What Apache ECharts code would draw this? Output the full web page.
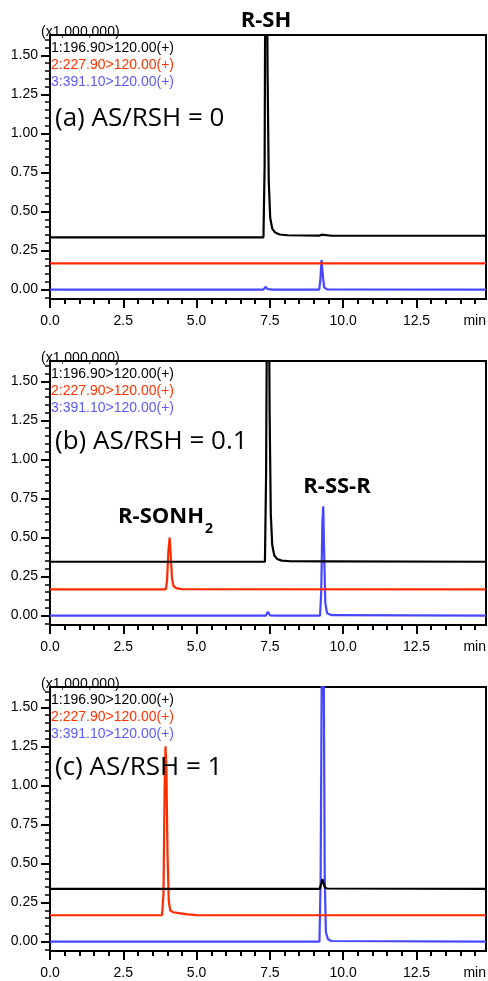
<!DOCTYPE html>
<html><head><meta charset="utf-8">
<script src="https://cdn.jsdelivr.net/npm/echarts@6/dist/echarts.min.js"></script>
<style>html,body{margin:0;padding:0;background:#fff}#c{width:488px;height:981px}</style>
</head><body><div id="c"></div><script>
// ---- data ----
const timeMajorTicks = [0, 2.5, 5, 7.5, 10, 12.5];
const timeMinorTicks = [0.5, 1, 1.5, 2, 3, 3.5, 4, 4.5, 5.5, 6, 6.5, 7, 8, 8.5, 9, 9.5, 10.5, 11, 11.5, 12, 13, 13.5, 14, 14.5];
const intensityMajorTicks = [0, 0.25, 0.5, 0.75, 1, 1.25, 1.5];
const intensityMinorTicks = [-0.05, 0.05, 0.1, 0.15, 0.2, 0.3, 0.35, 0.4, 0.45, 0.55, 0.6, 0.65, 0.7, 0.8, 0.85, 0.9, 0.95, 1.05, 1.1, 1.15, 1.2, 1.3, 1.35, 1.4, 1.45, 1.55, 1.6];
const channelNames = ['1:196.90>120.00(+)', '2:227.90>120.00(+)', '3:391.10>120.00(+)'];
const panelLabels = ['(a) AS/RSH = 0', '(b) AS/RSH = 0.1', '(c) AS/RSH = 1'];
const scaleNote = '(x1,000,000)';
const timeUnit = 'min';

// panel (a)
const a_ch1 = [[0,0.335],[6.9,0.335],[6.95,0.341],[7.0,0.335],[7.28,0.335],[7.32,0.8],[7.35,2.4],[7.38,2.6],[7.42,1.4],[7.46,0.7],[7.51,0.46],[7.58,0.39],[7.68,0.365],[7.83,0.353],[8.1,0.348],[9.2,0.346],[9.27,0.352],[9.33,0.346],[9.6,0.345],[14.87,0.345]];
const a_ch2 = [[0,0.168],[14.87,0.168]];
const a_ch3 = [[0,0],[7.28,0],[7.35,0.018],[7.43,0.003],[7.6,0],[9.18,0],[9.22,0.06],[9.26,0.19],[9.28,0.195],[9.31,0.08],[9.35,0.015],[9.45,0.002],[14.87,0]];
// panel (b)
const b_ch1 = [[0,0.345],[7.33,0.345],[7.37,0.9],[7.41,2.4],[7.45,2.6],[7.49,1.3],[7.53,0.65],[7.58,0.45],[7.65,0.385],[7.75,0.362],[7.9,0.352],[8.2,0.348],[9.25,0.347],[9.31,0.353],[9.37,0.347],[14.87,0.345]];
const b_ch2 = [[0,0.168],[3.95,0.168],[3.99,0.22],[4.04,0.42],[4.08,0.5],[4.12,0.38],[4.16,0.24],[4.21,0.19],[4.3,0.176],[4.5,0.17],[14.87,0.168]];
const b_ch3 = [[0,0],[7.36,0],[7.43,0.025],[7.5,0.002],[7.7,0],[9.21,0],[9.25,0.15],[9.29,0.6],[9.32,0.7],[9.35,0.4],[9.39,0.08],[9.45,0.015],[9.6,0.003],[14.87,0]];
// panel (c)
const c_ch1 = [[0,0.338],[7.32,0.338],[7.36,0.344],[7.4,0.338],[7.82,0.338],[7.86,0.343],[7.9,0.338],[9.2,0.338],[9.25,0.37],[9.29,0.4],[9.33,0.375],[9.38,0.345],[9.45,0.34],[14.87,0.338]];
const c_ch2 = [[0,0.169],[3.82,0.169],[3.87,0.3],[3.91,1.0],[3.94,1.25],[3.97,1.1],[4.01,0.55],[4.05,0.26],[4.1,0.2],[4.2,0.188],[4.4,0.182],[4.7,0.174],[5.0,0.17],[14.87,0.169]];
const c_ch3 = [[0,0],[9.19,0],[9.23,0.4],[9.27,1.8],[9.3,2.6],[9.34,1.6],[9.37,0.4],[9.41,0.06],[9.48,0.015],[9.6,0.004],[14.87,0]];

const timeRange = [0, 14.87];
const intensityRange = [-0.06, 1.63];

// ---- layout / style ----
const colors = ['#000000', '#ff2a00', '#4646ff'];
const legendColors = ['#000000', '#ff3300', '#5a5aff'];
const panelData = [[a_ch1, a_ch2, a_ch3], [b_ch1, b_ch2, b_ch3], [c_ch1, c_ch2, c_ch3]];
const tops = [35, 361, 687];
const labelYs = [122, 445, 771];
const GL = 50, GW = 436, GH = 264;
const tickFont = 'Liberation Sans, Arial, sans-serif';

const grid = [], xAxis = [], yAxis = [], series = [], graphic = [];
tops.forEach((top, p) => {
  grid.push({left: GL, top: top, width: GW, height: GH, show: true, borderColor: '#000', borderWidth: 2, backgroundColor: 'transparent'});
  xAxis.push({type: 'value', gridIndex: p, min: timeRange[0], max: timeRange[1],
    axisLine: {show: true, onZero: false, lineStyle: {color: '#000', width: 2}},
    axisTick: {show: true, inside: false, length: 9, customValues: timeMajorTicks, lineStyle: {color: '#000', width: 2}},
    axisLabel: {show: true, customValues: timeMajorTicks, margin: 15, color: '#000', fontSize: 14, fontFamily: tickFont, formatter: v => v.toFixed(1)},
    splitLine: {show: false}});
  xAxis.push({type: 'value', gridIndex: p, min: timeRange[0], max: timeRange[1], position: 'bottom',
    axisLine: {show: false, onZero: false},
    axisTick: {show: true, inside: false, length: 5, customValues: timeMinorTicks, lineStyle: {color: '#000', width: 2}},
    axisLabel: {show: false}, splitLine: {show: false}});
  yAxis.push({type: 'value', gridIndex: p, min: intensityRange[0], max: intensityRange[1],
    axisLine: {show: true, onZero: false, lineStyle: {color: '#000', width: 2}},
    axisTick: {show: true, inside: false, length: 9, customValues: intensityMajorTicks, lineStyle: {color: '#000', width: 2}},
    axisLabel: {show: true, customValues: intensityMajorTicks, margin: 12, color: '#000', fontSize: 14, fontFamily: tickFont, formatter: v => v.toFixed(2)},
    splitLine: {show: false}});
  yAxis.push({type: 'value', gridIndex: p, min: intensityRange[0], max: intensityRange[1], position: 'left',
    axisLine: {show: false, onZero: false},
    axisTick: {show: true, inside: false, length: 5, customValues: intensityMinorTicks, lineStyle: {color: '#000', width: 1.5}},
    axisLabel: {show: false}, splitLine: {show: false}});

  [2, 1, 0].forEach(ch => {
    series.push({type: 'line', name: channelNames[ch], xAxisIndex: 2 * p, yAxisIndex: 2 * p,
      data: panelData[p][ch], showSymbol: false, symbol: 'none', clip: true, animation: false,
      lineStyle: {color: colors[ch], width: 2.2}, z: 3 + (2 - ch)});
  });

  channelNames.forEach((n, ch) => {
    graphic.push({type: 'text', left: GL + 1, top: top + 6.5 + ch * 16.7, z: 10,
      style: {text: n, fill: legendColors[ch], font: '14px ' + tickFont}});
  });
  graphic.push({type: 'text', left: 41, top: top - 10, z: 1,
    style: {text: scaleNote, fill: '#000', font: '14px ' + tickFont}});
  graphic.push({type: 'text', right: 2, top: top + GH + 15, z: 10,
    style: {text: timeUnit, fill: '#000', font: '14px ' + tickFont}});
  graphic.push({type: 'text', left: 55, top: labelYs[p] - 16, z: 10,
    style: {text: panelLabels[p], fill: '#000', font: '26px "Open Sans", sans-serif'}});
});

const boldFont = 'bold 22px "Open Sans", sans-serif';
graphic.push({type: 'text', x: 266, y: 21, z: 10, style: {text: 'R-SH', fill: '#000', font: boldFont, textAlign: 'center', textVerticalAlign: 'middle'}});
graphic.push({type: 'text', x: 337, y: 487, z: 10, style: {text: 'R-SS-R', fill: '#000', font: boldFont, textAlign: 'center', textVerticalAlign: 'middle'}});
graphic.push({type: 'text', x: 204, y: 517, z: 10, style: {text: 'R-SONH', fill: '#000', font: boldFont, textAlign: 'right', textVerticalAlign: 'middle'}});
graphic.push({type: 'text', x: 205, y: 529, z: 10, style: {text: '2', fill: '#000', font: 'bold 14px "Open Sans", sans-serif', textAlign: 'left', textVerticalAlign: 'middle'}});

const chart = echarts.init(document.getElementById('c'), null, {renderer: 'canvas'});
chart.setOption({animation: false, backgroundColor: '#fff', grid, xAxis, yAxis, series, graphic});
</script></body></html>
